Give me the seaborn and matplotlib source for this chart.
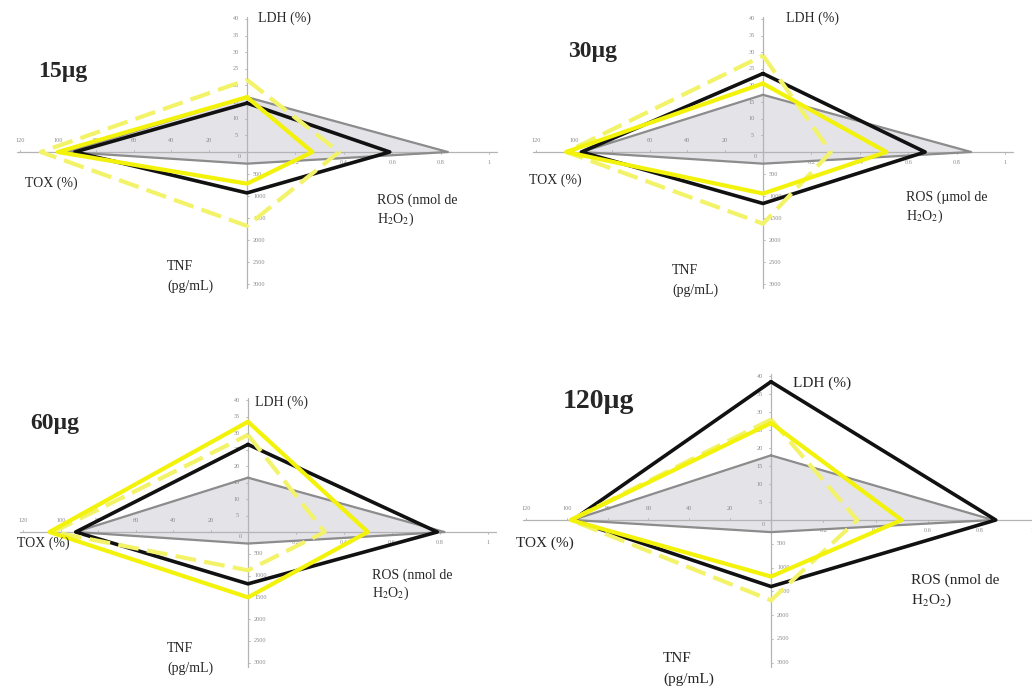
import matplotlib
matplotlib.use("Agg")
import matplotlib.pyplot as plt
import seaborn as sns

# ---- data ----
panels = ["15µg", "30µg", "60µg", "120µg"]
ros_units = ["nmol", "µmol", "nmol", "nmol"]

# control (grey filled)
ctrl_ldh = [16.5, 17.2, 16.5, 18.0]
ctrl_ros = [0.83, 0.86, 0.82, 0.85]
ctrl_tnf = [265, 265, 265, 255]
ctrl_tox = [95, 96, 92, 97]

# black
blk_ldh = [14.7, 23.6, 26.6, 38.5]
blk_ros = [0.59, 0.67, 0.79, 0.86]
blk_tnf = [930, 1170, 1190, 1400]
blk_tox = [91, 96, 92, 97]

# yellow solid
ysol_ldh = [16.5, 20.6, 33.5, 27.0]
ysol_ros = [0.27, 0.51, 0.50, 0.50]
ysol_tnf = [720, 945, 1500, 1190]
ysol_tox = [100, 104, 106, 98]

# yellow dashed
ydsh_ldh = [21.7, 29.0, 29.5, 28.0]
ydsh_ros = [0.38, 0.28, 0.32, 0.33]
ydsh_tnf = [1680, 1630, 880, 1690]
ydsh_tox = [109, 104, 104, 98]

ldh_ticks = [5, 10, 15, 20, 25, 30, 35, 40]
ros_ticks = [0.2, 0.4, 0.6, 0.8, 1]
tnf_ticks = [500, 1000, 1500, 2000, 2500, 3000]
tox_ticks = [20, 40, 60, 80, 100, 120]

# ---- layout ----
W, H = 1032, 693
LDH_MAX, ROS_MAX, TNF_MAX, TOX_MAX = 40, 1.0, 3000, 120
LEN_UP, LEN_RIGHT, LEN_DOWN, LEN_LEFT = 133, 242, 132, 227

# panel centre (px), scale, quadrant box
layout = [
    dict(c=(247, 152), s=1.0, box=(0, 0, 516, 346)),
    dict(c=(763, 152), s=1.0, box=(516, 0, 1032, 346)),
    dict(c=(248, 532), s=0.99, box=(0, 346, 516, 693)),
    dict(c=(771, 520), s=1.08, box=(516, 346, 1032, 693)),
]

# label positions (px, left edge / vertical centre)
labels = [
    dict(title=(38, 72), ldh=(258, 18), tox=(25, 183), ros=(377, 200), tnf=(167, 266), tsize=17),
    dict(title=(568, 52), ldh=(786, 18), tox=(529, 180), ros=(906, 197), tnf=(672, 270), tsize=17),
    dict(title=(30, 423), ldh=(255, 402), tox=(17, 543), ros=(372, 575), tnf=(167, 648), tsize=17),
    dict(title=(563, 402), ldh=(793, 383), tox=(516, 543), ros=(911, 580), tnf=(663, 658), tsize=20),
]

sns.set_theme(style="white")
plt.rcParams["font.family"] = ["Liberation Serif", "DejaVu Serif"]
plt.rcParams["mathtext.fontset"] = "stix"

fig = plt.figure(figsize=(W / 100, H / 100), dpi=100)


def star(ldh, ros, tnf, tox, s):
    xs = [0, ros / ROS_MAX * LEN_RIGHT * s, 0, -tox / TOX_MAX * LEN_LEFT * s, 0]
    ys = [ldh / LDH_MAX * LEN_UP * s, 0, -tnf / TNF_MAX * LEN_DOWN * s, 0,
          ldh / LDH_MAX * LEN_UP * s]
    return xs, ys


def ftext(x, y, s, **kw):
    fig.text(x / W, 1 - y / H, s, **kw)


tick_kw = dict(fontsize=4.5, color="#8a8a8a")
axis_col = "#b4b4b4"

for i, name in enumerate(panels):
    cx, cy = layout[i]["c"]
    s = layout[i]["s"]
    x0, y0, x1, y1 = layout[i]["box"]
    ax = fig.add_axes([x0 / W, 1 - y1 / H, (x1 - x0) / W, (y1 - y0) / H])
    ax.set_xlim(x0 - cx, x1 - cx)
    ax.set_ylim(cy - y1, cy - y0)
    ax.axis("off")

    # control polygon fill
    xs, ys = star(ctrl_ldh[i], ctrl_ros[i], ctrl_tnf[i], ctrl_tox[i], s)
    ax.fill(xs, ys, color="#e3e3e8", zorder=1)

    # axes
    ax.plot([-(LEN_LEFT + 3) * s, (LEN_RIGHT + 8) * s], [0, 0], color=axis_col, lw=0.9, zorder=2)
    ax.plot([0, 0], [-(LEN_DOWN + 4) * s, (LEN_UP + 2) * s], color=axis_col, lw=0.9, zorder=2)

    for t in ldh_ticks:
        y = t / LDH_MAX * LEN_UP * s
        ax.plot([-2, 0], [y, y], color=axis_col, lw=0.6, zorder=2)
        ax.text(-11, y, str(t), ha="center", va="center", zorder=2, **tick_kw)
    ax.text(-8, -5, "0", ha="center", va="center", zorder=2, **tick_kw)
    for t in ros_ticks:
        x = t / ROS_MAX * LEN_RIGHT * s
        ax.plot([x, x], [-2, 0], color=axis_col, lw=0.6, zorder=2)
        ax.text(x, -11, str(t), ha="center", va="center", zorder=2, **tick_kw)
    for t in tnf_ticks:
        y = -t / TNF_MAX * LEN_DOWN * s
        ax.plot([0, 2], [y, y], color=axis_col, lw=0.6, zorder=2)
        ax.text(6, y, str(t), ha="left", va="center", zorder=2, **tick_kw)
    for t in tox_ticks:
        x = -t / TOX_MAX * LEN_LEFT * s
        ax.plot([x, x], [0, 2], color=axis_col, lw=0.6, zorder=2)
        ax.text(x, 12, str(t), ha="center", va="center", zorder=2, **tick_kw)

    # series
    sns.lineplot(x=xs, y=ys, sort=False, estimator=None, ax=ax,
                 color="#8c8c8c", linewidth=1.6, zorder=3)
    xs, ys = star(blk_ldh[i], blk_ros[i], blk_tnf[i], blk_tox[i], s)
    sns.lineplot(x=xs, y=ys, sort=False, estimator=None, ax=ax,
                 color="#111111", linewidth=2.6, zorder=4)
    xs, ys = star(ydsh_ldh[i], ydsh_ros[i], ydsh_tnf[i], ydsh_tox[i], s)
    sns.lineplot(x=xs, y=ys, sort=False, estimator=None, ax=ax,
                 color="#f3f36a", linewidth=3.0, linestyle=(0, (5, 2)), zorder=5)
    xs, ys = star(ysol_ldh[i], ysol_ros[i], ysol_tnf[i], ysol_tox[i], s)
    sns.lineplot(x=xs, y=ys, sort=False, estimator=None, ax=ax,
                 color="#f2f20a", linewidth=3.0, zorder=6)

    # texts
    lb = labels[i]
    big = 11 if i == 3 else 10
    ftext(*lb["title"], name, fontsize=lb["tsize"], fontweight="bold", va="center")
    ftext(*lb["ldh"], "LDH (%)", fontsize=big, va="center")
    ftext(*lb["tox"], "TOX (%)", fontsize=big, va="center")
    rx, ry = lb["ros"]
    ftext(rx, ry, f"ROS ({ros_units[i]} de", fontsize=big, va="center")
    ftext(rx, ry + 19 * s, "H$_2$O$_2$)", fontsize=big, va="center")
    tx, ty = lb["tnf"]
    ftext(tx, ty, "TNF", fontsize=big, va="center")
    ftext(tx, ty + 20 * s, "(pg/mL)", fontsize=big, va="center")

fig.savefig("out.png", dpi=100, facecolor="white")
